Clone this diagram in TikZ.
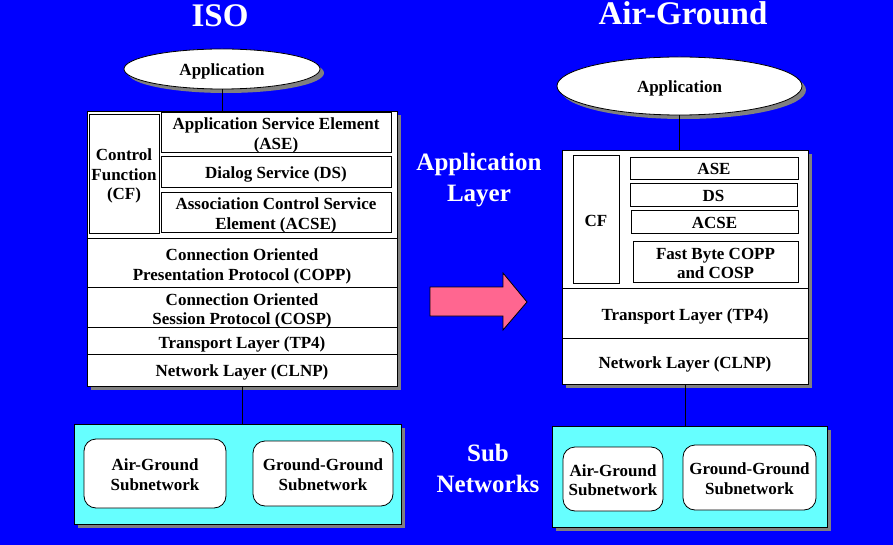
\documentclass[tikz,border=0pt]{standalone}
\usepackage{fontspec}
\setmainfont{Liberation Serif}
\usetikzlibrary{shadows,shapes.geometric}
\definecolor{bgblue}{RGB}{0,0,255}
\definecolor{subcyan}{RGB}{102,255,255}
\definecolor{arrowpink}{RGB}{255,102,144}
\definecolor{shadowgray}{RGB}{128,128,128}
\newcommand{\tA}{\rule{0pt}{17.5pt}}
\newcommand{\tZ}{\rule[-3.5pt]{0pt}{0pt}}
\begin{document}
\begin{tikzpicture}[x=1pt,y=-1pt,
  txt/.style={font=\bfseries\fontsize{17}{19.5}\selectfont, align=center},
  box/.style={txt, draw=black, line width=0.8pt, fill=white, inner sep=0pt},
  rowbox/.style={txt, inner sep=0pt},
  shadowed/.style={drop shadow={shadow xshift=4pt, shadow yshift=-4pt, fill=shadowgray, opacity=1}},
  appell/.style={box, ellipse, shadowed},
  subbox/.style={draw=black, line width=0.8pt, fill=subcyan, inner sep=0pt, shadowed},
  netbox/.style={box, rounded corners=12pt},
  sep/.style={line width=0.8pt},
  conn/.style={line width=0.8pt},
  title/.style={text=white, font=\bfseries\fontsize{33}{38}\selectfont},
  side/.style={text=white, align=center, font=\bfseries\fontsize{25}{31}\selectfont}
]
\useasboundingbox (0,0) rectangle (893,545);
\fill[bgblue] (0,0) rectangle (893,545);

% titles
\node[title, anchor=base] (isoT) at (220,27) {ISO};
\node[title, anchor=base] (agT) at (683,25) {Air-Ground};
\node[side] (appLayer) at (479,180) {Application\\Layer};
\node[side] (subNet) at (488,468) {Sub\\Networks};

% ---------------- left (ISO) ----------------
\node[appell, minimum width=196pt, minimum height=40pt] (appL) at (222,69) {\tA Application\tZ};
\node[box, shadowed, minimum width=310pt, minimum height=275pt] (outerL) at (242,248.5) {};
\node[box, minimum width=70pt, minimum height=119pt] (cfL) at (124,173.5) {\tA Control\\Function\\(CF)\tZ};
\node[box, minimum width=230pt, minimum height=39pt] (aseL) at (276,132.5) {\tA Application Service Element\\(ASE)\tZ};
\node[box, minimum width=230pt, minimum height=31pt] (dsL) at (276,171.5) {\tA Dialog Service (DS)\tZ};
\node[box, minimum width=230pt, minimum height=39pt] (acseL) at (276,212.5) {\tA Association Control Service\\Element (ACSE)\tZ};
\node[rowbox, minimum width=310pt, minimum height=49pt] (coppL) at (242,263.5) {\tA Connection Oriented\\Presentation Protocol (COPP)\tZ};
\node[rowbox, minimum width=310pt, minimum height=40pt] (cospL) at (242,308) {\tA Connection Oriented\\Session Protocol (COSP)\tZ};
\node[rowbox, minimum width=310pt, minimum height=28pt] (tp4L) at (242,342) {\tA Transport Layer (TP4)\tZ};
\node[rowbox, minimum width=310pt, minimum height=30pt] (clnpL) at (242,370) {\tA Network Layer (CLNP)\tZ};
\draw[sep] (coppL.north west) -- (coppL.north east);
\draw[sep] (cospL.north west) -- (cospL.north east);
\draw[sep] (tp4L.north west) -- (tp4L.north east);
\draw[sep] (clnpL.north west) -- (clnpL.north east);

\node[subbox, minimum width=327pt, minimum height=100pt] (subL) at (237.5,474) {};
\node[netbox, minimum width=142pt, minimum height=69pt] (agL) at (155,473.5) {\tA Air-Ground\\Subnetwork\tZ};
\node[netbox, minimum width=140pt, minimum height=65pt] (ggL) at (323,473.5) {\tA Ground-Ground\\Subnetwork\tZ};

\draw[conn] (appL.south) -- (appL.south |- outerL.north);
\draw[conn] (outerL.south) -- (outerL.south |- subL.north);

% ---------------- right (Air-Ground) ----------------
\node[appell, minimum width=245pt, minimum height=58pt] (appR) at (679.5,86) {\tA Application\tZ};
\node[box, shadowed, minimum width=246pt, minimum height=234pt] (outerR) at (685,267) {};
\node[box, minimum width=46pt, minimum height=128pt] (cfR) at (596,219) {\tA CF\tZ};
\node[box, minimum width=168pt, minimum height=22pt] (aseR) at (714,168) {\tA ASE\tZ};
\node[box, minimum width=167pt, minimum height=23pt] (dsR) at (713.5,194.5) {\tA DS\tZ};
\node[box, minimum width=167pt, minimum height=23pt] (acseR) at (714.5,221.5) {\tA ACSE\tZ};
\node[box, minimum width=165pt, minimum height=40pt] (fbR) at (715.5,262) {\tA Fast Byte COPP\\and COSP\tZ};
\node[rowbox, minimum width=246pt, minimum height=50pt] (tp4R) at (685,314) {\tA Transport Layer (TP4)\tZ};
\node[rowbox, minimum width=246pt, minimum height=45pt] (clnpR) at (685,361.5) {\tA Network Layer (CLNP)\tZ};
\draw[sep] (tp4R.north west) -- (tp4R.north east);
\draw[sep] (clnpR.north west) -- (clnpR.north east);

\node[subbox, minimum width=275pt, minimum height=101pt] (subR) at (689.5,476.5) {};
\node[netbox, minimum width=100pt, minimum height=64pt] (agR) at (613,479) {\tA Air-Ground\\Subnetwork\tZ};
\node[netbox, minimum width=133pt, minimum height=65pt] (ggR) at (749.5,477.5) {\tA Ground-Ground\\Subnetwork\tZ};

\draw[conn] (appR.south) -- (appR.south |- outerR.north);
\draw[conn] (outerR.south) -- (outerR.south |- subR.north);

% ---------------- arrow ----------------
\draw[fill=arrowpink, line width=0.8pt, line join=miter]
  (430,287) -- (503,287) -- (503,273) -- (527,302) -- (503,330) -- (503,316) -- (430,316) -- cycle;
\end{tikzpicture}
\end{document}
